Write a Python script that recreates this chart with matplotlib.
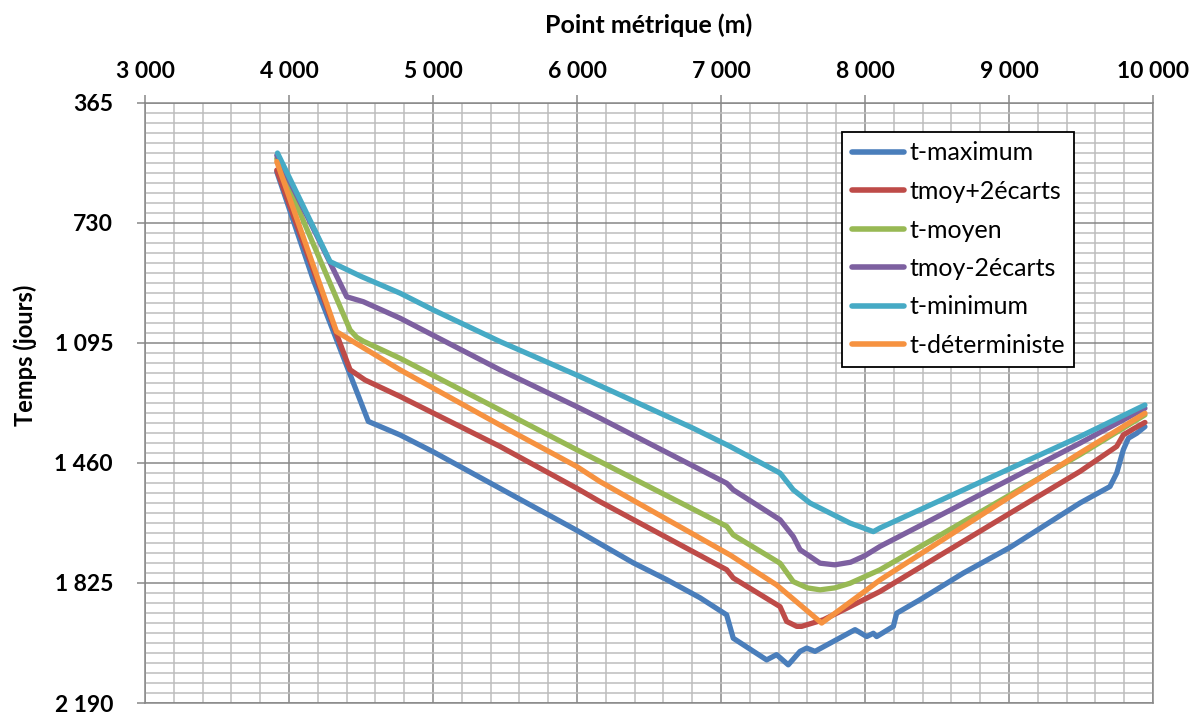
import matplotlib
matplotlib.use("Agg")
import matplotlib.pyplot as plt
from matplotlib.ticker import MultipleLocator, FixedLocator

# ---------------- data ----------------
series_names = ["t-maximum", "tmoy+2écarts", "t-moyen", "tmoy-2écarts", "t-minimum", "t-déterministe"]
series_colors = ["#4A7EBB", "#BE4B48", "#98B954", "#7D60A0", "#46AAC5", "#F69240"]

pm_max = [3915, 4169, 4551, 4771, 5000, 5998, 6391, 6623, 6854, 7039, 7085, 7317, 7386, 7467,
          7549, 7595, 7653, 7931, 8012, 8058, 8081, 8197, 8220, 8382, 8683, 9007, 9493, 9701, 9748,
          9794, 9829, 9887, 9944]
t_max = [575, 904, 1334, 1375, 1426, 1665, 1764, 1815, 1870, 1922, 1993, 2059, 2043, 2074,
         2033, 2023, 2033, 1967, 1988, 1978, 1988, 1957, 1917, 1876, 1795, 1717, 1582, 1532, 1491,
         1420, 1385, 1370, 1350]

pm_p2 = [3915, 4354, 4424, 4528, 4771, 5465, 5998, 6160, 7040, 7085, 7410, 7456, 7526, 7560, 7711,
         7896, 8104, 9007, 9493, 9748, 9794, 9870, 9944]
t_p2 = [570, 1096, 1177, 1208, 1258, 1410, 1537, 1578, 1785, 1810, 1897, 1942, 1957, 1957, 1937,
        1897, 1851, 1613, 1486, 1410, 1375, 1355, 1337]

pm_moy = [3915, 4424, 4470, 4516, 4771, 5465, 5998, 6160, 7040, 7085, 7410, 7502, 7600, 7688, 7790,
          7896, 8104, 9493, 9944]
t_moy = [535, 1056, 1078, 1090, 1142, 1299, 1420, 1456, 1653, 1679, 1765, 1821, 1840, 1846, 1840,
         1826, 1785, 1435, 1314]

pm_m2 = [3915, 4192, 4401, 4516, 4771, 5465, 5998, 6160, 7040, 7085, 7410, 7502, 7549, 7688, 7790,
         7900, 8000, 8104, 9493, 9944]
t_m2 = [525, 768, 955, 970, 1020, 1177, 1289, 1324, 1522, 1542, 1633, 1684, 1724, 1765, 1770,
        1762, 1742, 1714, 1400, 1294]

pm_min = [3920, 4285, 4500, 4771, 5002, 5465, 5998, 6808, 7063, 7410, 7502, 7618, 7896, 8058, 8104,
          9493, 9944]
t_min = [518, 848, 893, 944, 995, 1091, 1193, 1355, 1410, 1491, 1542, 1582, 1643, 1669, 1658,
         1380, 1284]

pm_det = [3915, 4330, 4771, 5465, 5998, 6160, 7063, 7386, 7699, 8012, 8104, 8938, 9493, 9944]
t_det = [544, 1061, 1177, 1345, 1471, 1517, 1740, 1831, 1947, 1846, 1816, 1582, 1430, 1309]

x_ticks = [3000, 4000, 5000, 6000, 7000, 8000, 9000, 10000]
x_tick_labels = ["3 000", "4 000", "5 000", "6 000", "7 000", "8 000", "9 000", "10 000"]
y_ticks = [365, 730, 1095, 1460, 1825, 2190]
y_tick_labels = ["365", "730", "1 095", "1 460", "1 825", "2 190"]

# ---------------- figure ----------------
plt.rcParams['font.family'] = ['Lato', 'DejaVu Sans']
fig = plt.figure(figsize=(12, 7.17), dpi=100)
ax = fig.add_axes([145 / 1200, 1 - 703 / 717, (1153 - 145) / 1200, (703 - 102.7) / 717])

xs = [pm_max, pm_p2, pm_moy, pm_m2, pm_min, pm_det]
ys = [t_max, t_p2, t_moy, t_m2, t_min, t_det]
for x, y, name, col in zip(xs, ys, series_names, series_colors):
    ax.plot(x, y, color=col, lw=3.8, label=name, solid_capstyle='round',
            solid_joinstyle='round', zorder=3)

ax.set_xlim(3000, 10000)
ax.set_ylim(2190, 365)

ax.xaxis.set_major_locator(FixedLocator(x_ticks))
ax.xaxis.set_minor_locator(MultipleLocator(200))
ax.yaxis.set_major_locator(FixedLocator(y_ticks))
ax.yaxis.set_minor_locator(MultipleLocator(365 / 12))
ax.set_xticklabels(x_tick_labels)
ax.set_yticklabels(y_tick_labels)

ax.xaxis.tick_top()
ax.xaxis.set_label_position('top')

ax.grid(which='minor', color='#BDBDBD', lw=1.1, zorder=0)
ax.grid(which='major', color='#888888', lw=1.1, zorder=1)
ax.set_axisbelow(True)

for s in ['left', 'top', 'right', 'bottom']:
    ax.spines[s].set_color('#888888')
    ax.spines[s].set_linewidth(1.1)

ax.tick_params(axis='both', which='major', length=6, width=1.1, color='#888888',
               direction='out')
ax.tick_params(axis='x', which='major', pad=9, labelsize=16.5)
ax.tick_params(axis='y', which='major', pad=17, labelsize=16.5)
ax.tick_params(which='minor', length=0)
for lab in ax.get_xticklabels() + ax.get_yticklabels():
    lab.set_fontweight('bold')

ax.set_xlabel("Point métrique (m)", fontsize=18, fontweight='bold', labelpad=20)
fig.text(25 / 1200, 1 - 355 / 717, "Temps (jours)", rotation=90, ha='center', va='center',
         fontsize=17, fontweight='bold')

leg = ax.legend(loc='upper left', bbox_to_anchor=(842 / 1200, 1 - 132 / 717),
                bbox_transform=fig.transFigure, fontsize=18, frameon=True, fancybox=False,
                borderaxespad=0, borderpad=0.38, handlelength=2.1, handletextpad=0.2,
                labelspacing=0.62)
leg.get_frame().set_edgecolor('black')
leg.get_frame().set_linewidth(1.3)
leg.get_frame().set_facecolor('white')
leg.get_frame().set_alpha(1)
for h in leg.get_lines():
    h.set_linewidth(4)
    h.set_solid_capstyle('round')

fig.savefig("out.png", dpi=100)
